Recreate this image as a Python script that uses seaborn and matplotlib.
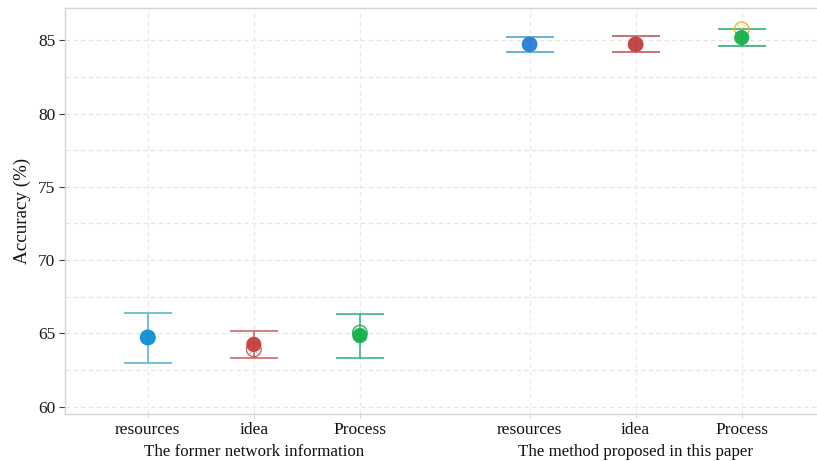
import numpy as np
import pandas as pd
import matplotlib
matplotlib.use("Agg")
import matplotlib.pyplot as plt
import matplotlib.transforms as mtransforms
import seaborn as sns

# Data
groups = ["The former network information", "The method proposed in this paper"]
categories = ["resources", "idea", "Process"]
mean_former = [64.72, 64.25, 64.85]
low_former = [62.95, 63.35, 63.30]
high_former = [66.40, 65.18, 66.35]
alt_former = [64.72, 63.90, 65.05]
mean_method = [84.72, 84.72, 85.18]
low_method = [84.18, 84.18, 84.60]
high_method = [85.20, 85.32, 85.80]
alt_method = [84.72, 84.72, 85.75]

dot_colors = ["#0f8fd6", "#c73f3c", "#12b04c", "#2a7fd6", "#c0403e", "#14b24c"]
bar_colors = ["#5ab8d0", "#c86a6a", "#3cb48a", "#4aa8cc", "#c45a5a", "#30b070"]
alt_colors = ["#0f8fd6", "#c75a58", "#2bb060", "#6a9ee0", "#d06a66", "#e0b43a"]

positions = [0, 1, 2, 3.6, 4.6, 5.6]

df = pd.DataFrame({
    "x": positions,
    "label": categories * 2,
    "mean": mean_former + mean_method,
    "low": low_former + low_method,
    "high": high_former + high_method,
    "alt": alt_former + alt_method,
    "key": [f"k{i}" for i in range(6)],
})

sns.set_theme(style="white")
plt.rcParams["font.family"] = ["Liberation Serif", "DejaVu Serif"]

fig = plt.figure(figsize=(8.17, 4.61), dpi=100)
ax = fig.add_axes([0.0796, 0.102, 0.9204, 0.8806])

# Grid
for y in np.arange(60, 87.6, 2.5):
    ax.axhline(y, color="#e4e4e4", lw=0.8, ls=(0, (4, 3)), zorder=0)
for x in positions:
    ax.axvline(x, color="#e8e8e8", lw=0.8, ls=(0, (4, 3)), zorder=0)

# Error bars
for i, row in df.iterrows():
    ax.errorbar(row["x"], row["mean"],
                yerr=[[row["mean"] - row["low"]], [row["high"] - row["mean"]]],
                fmt="none", ecolor=bar_colors[i], elinewidth=1.2,
                capsize=17, capthick=1.2, zorder=2)

# Secondary observations: hollow circles with a cross
sns.scatterplot(data=df, x="x", y="alt", marker="o", s=110,
                legend=False, ax=ax, zorder=3)
ring = ax.collections[-1]
ring.set_facecolors("none")
ring.set_edgecolors(alt_colors)
ring.set_linewidths(0.9)
sns.scatterplot(data=df, x="x", y="alt", marker="x", s=60,
                legend=False, ax=ax, zorder=3)
cross = ax.collections[-1]
cross.set_edgecolors(alt_colors)
cross.set_facecolors(alt_colors)
cross.set_linewidths(0.6)
cross.set_alpha(0.6)

# Means
pal = dict(zip(df["key"], dot_colors))
sns.scatterplot(data=df, x="x", y="mean", hue="key", palette=pal, s=120,
                edgecolor="none", legend=False, ax=ax, zorder=4, alpha=0.95)

ax.set_xlim(-0.78, 6.31)
ax.set_ylim(59.5, 87.2)
ax.set_yticks([60, 65, 70, 75, 80, 85])
ax.set_xticks(positions)
ax.set_xticklabels(df["label"], fontsize=12.5, color="#111111")
ax.tick_params(axis="y", labelsize=12.5, labelcolor="#1a1a1a", color="#444444",
               length=4, width=0.8, left=True, pad=3)
ax.tick_params(axis="x", length=3, width=0.6, bottom=True, color="#cccccc", pad=3)
ax.set_ylabel("Accuracy (%)", fontsize=13.7, color="#111111", labelpad=5)
ax.set_xlabel("")

for side in ["left", "top", "bottom"]:
    ax.spines[side].set_color("#d4d4d4")
    ax.spines[side].set_linewidth(1.0)
ax.spines["right"].set_visible(False)

trans = mtransforms.blended_transform_factory(ax.transData, ax.transAxes)
ax.text(1, -0.073, groups[0], transform=trans, ha="center", va="top",
        fontsize=12.2, color="#111111")
ax.text(4.6, -0.073, groups[1], transform=trans, ha="center", va="top",
        fontsize=12.2, color="#111111")

fig.savefig("out.png", dpi=100)
